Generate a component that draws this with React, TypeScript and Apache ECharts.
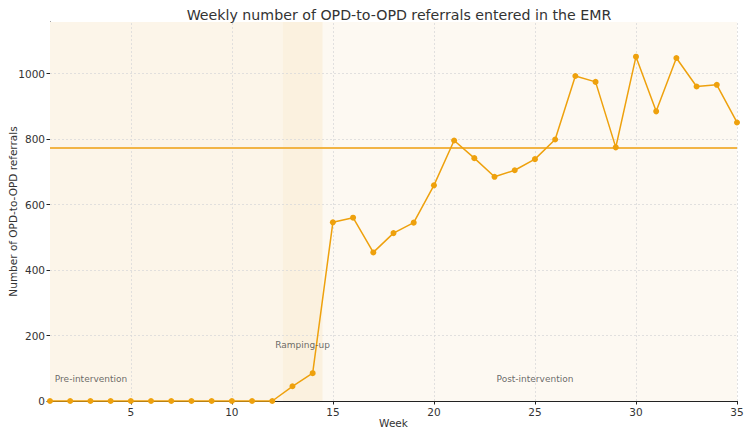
import React, { useEffect, useRef } from "react";
import * as echarts from "echarts";

// Weekly counts of OPD-to-OPD referrals, weeks 1..35
const weeks: number[] = Array.from({ length: 35 }, (_, i) => i + 1);
const referrals: number[] = [
  0, 0, 0, 0, 0, 0, 0, 0, 0, 0, 0, 0,
  45, 85,
  546, 560, 454, 513, 545, 659, 796, 742, 685, 705, 739, 799,
  993, 975, 775, 1052, 885, 1048, 961, 966, 851,
];

// Study phases (week boundaries)
const phases = [
  { name: "Pre-intervention", from: 1, to: 12.5, color: "#fcf5e9" },
  { name: "Ramping-up", from: 12.5, to: 14.5, color: "#fbf1df" },
  { name: "Post-intervention", from: 14.5, to: 35, color: "#fdf9f2" },
];

// Phase label anchors: [week, value, alignment, text]
const phaseLabels: [number, number, string, string][] = [
  [1.24, 67, "left", "Pre-intervention"],
  [13.5, 171, "center", "Ramping-up"],
  [25, 67, "center", "Post-intervention"],
];

const xTicks: number[] = [5, 10, 15, 20, 25, 30, 35];
const yTicks: number[] = [0, 200, 400, 600, 800, 1000];

// Post-intervention average (weeks 15..35)
const postValues = referrals.slice(14);
const postMean = postValues.reduce((a, b) => a + b, 0) / postValues.length;

const FONT = "DejaVu Sans";

export default function App() {
  const ref = useRef<HTMLDivElement>(null);

  useEffect(() => {
    if (!ref.current) return;
    const chart = echarts.init(ref.current, null, { renderer: "svg" });
    const gridLine = { color: "#d9d9d9", width: 0.8, type: [2, 2] as any };

    chart.setOption({
      animation: false,
      backgroundColor: "#ffffff",
      textStyle: { fontFamily: FONT },
      title: {
        text: "Weekly number of OPD-to-OPD referrals entered in the EMR",
        left: 394,
        top: 3,
        textAlign: "center",
        textStyle: { fontFamily: FONT, fontSize: 14.2, fontWeight: "normal", color: "#333" },
      },
      grid: { left: 50, right: 13, top: 22, bottom: 34, outerBoundsMode: "none", containLabel: false },
      xAxis: {
        type: "value",
        min: 1,
        max: 35,
        name: "Week",
        nameLocation: "middle",
        nameGap: 16,
        nameMoveOverlap: false,
        nameTextStyle: { fontFamily: FONT, fontSize: 10.5, color: "#333" },
        axisLine: { show: true, lineStyle: { color: "#222", width: 1 } },
        axisTick: { show: true, length: 3.5, customValues: xTicks, lineStyle: { color: "#222" } },
        axisLabel: { customValues: xTicks, fontFamily: FONT, fontSize: 10.5, color: "#333", margin: 5 },
        splitLine: { show: false },
      },
      yAxis: {
        type: "value",
        min: 0,
        max: 1158,
        name: "Number of OPD-to-OPD referrals",
        nameLocation: "middle",
        nameGap: 32,
        nameMoveOverlap: false,
        nameTextStyle: { fontFamily: FONT, fontSize: 10.5, color: "#333" },
        axisLine: { show: true, lineStyle: { color: "#222", width: 1 } },
        axisTick: { show: true, length: 3.5, customValues: yTicks, lineStyle: { color: "#222" } },
        axisLabel: {
          customValues: yTicks,
          formatter: (v: number) => String(v),
          fontFamily: FONT,
          fontSize: 10.5,
          color: "#333",
          margin: 5,
        },
        splitLine: { show: false },
      },
      series: [
        {
          // Phase shading and grid lines
          type: "line",
          data: [],
          silent: true,
          markArea: {
            silent: true,
            label: { show: false },
            data: phases.map((p) => [
              { xAxis: p.from, itemStyle: { color: p.color } },
              { xAxis: p.to },
            ]),
          },
          markLine: {
            silent: true,
            symbol: "none",
            label: { show: false },
            lineStyle: gridLine,
            data: [
              ...xTicks.map((v) => ({ xAxis: v })),
              ...yTicks.filter((v) => v > 0).map((v) => ({ yAxis: v })),
            ],
          },
        },
        {
          // Post-intervention mean
          type: "line",
          data: [],
          markLine: {
            silent: true,
            symbol: "none",
            label: { show: false },
            lineStyle: { color: "#f2b445", width: 2, type: "solid" },
            data: [{ yAxis: postMean }],
          },
        },
        {
          type: "line",
          data: weeks.map((w, i) => [w, referrals[i]]),
          symbol: "circle",
          symbolSize: 6,
          clip: false,
          lineStyle: { color: "#eea10d", width: 1.5 },
          itemStyle: { color: "#eea10d" },
          z: 5,
        },
        {
          type: "scatter",
          symbolSize: 0,
          silent: true,
          data: phaseLabels.map(([x, y, align, name]) => ({
            value: [x, y],
            label: {
              show: true,
              position: "inside",
              align,
              verticalAlign: "middle",
              formatter: name,
              fontFamily: FONT,
              fontSize: 9,
              color: "#444",
            },
          })),
          z: 6,
        },
      ],
    });

    return () => chart.dispose();
  }, []);

  return (
    <div
      ref={ref}
      style={{ position: "fixed", left: 0, top: 0, width: 750, height: 435 }}
    />
  );
}
